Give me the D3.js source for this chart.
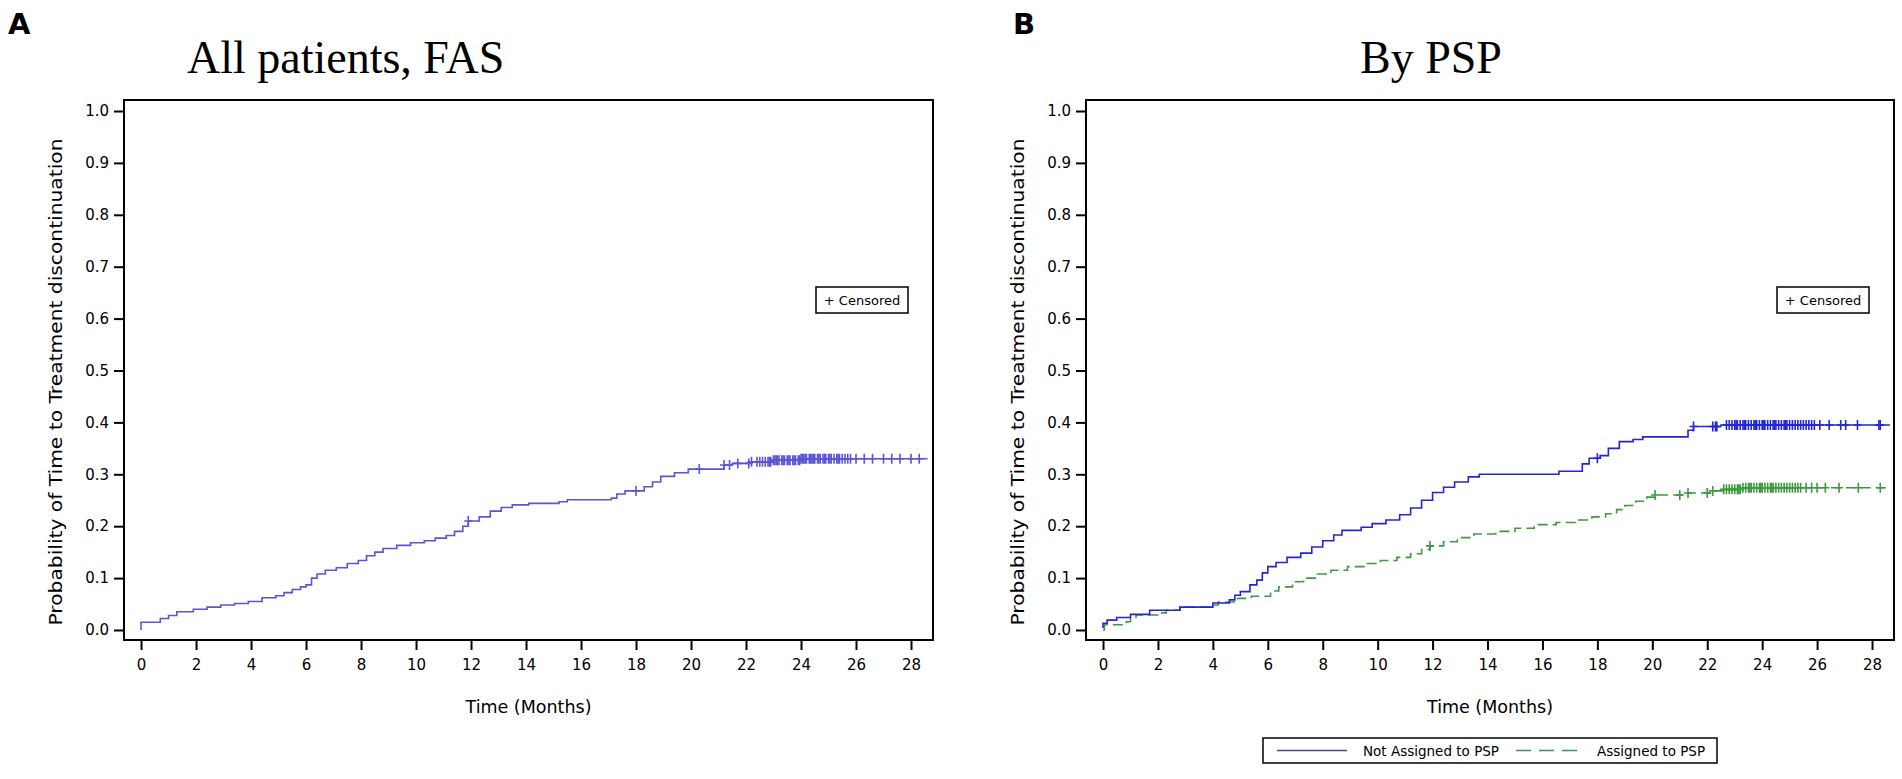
<!DOCTYPE html>
<html>
<head>
<meta charset="utf-8">
<script src="https://cdn.jsdelivr.net/npm/d3@7"></script>
<style>
  body { margin: 0; background: #fff; }
  svg text { font-family: "DejaVu Sans", Verdana, sans-serif; fill: #000; }
</style>
</head>
<body>
<svg id="chart" width="1902" height="779"></svg>
<script>
// Tick labels
const yTicks = [0, 0.1, 0.2, 0.3, 0.4, 0.5, 0.6, 0.7, 0.8, 0.9, 1.0];
const xTicks = [0, 2, 4, 6, 8, 10, 12, 14, 16, 18, 20, 22, 24, 26, 28];

// Panel A: all patients (step times, cumulative probability from that time on)
const timesAll = [0, 0, 0.7, 1.0, 1.3, 1.9, 2.4, 2.9, 3.4, 3.9, 4.4, 4.9, 5.2, 5.5, 5.8, 6.0, 6.2, 6.4, 6.7, 7.1, 7.5,
  7.9, 8.2, 8.5, 8.8, 9.3, 9.8, 10.3, 10.7, 11.1, 11.4, 11.7, 11.9, 12.3, 12.7, 13.1, 13.5, 14.1, 15.2, 15.5, 17.1,
  17.3, 17.6, 18.3, 18.6, 18.9, 19.4, 19.9, 21.2, 21.5, 22.2, 23.0, 24.0, 28.6];
const probAll = [0.0, 0.015, 0.022, 0.028, 0.035, 0.040, 0.044, 0.048, 0.051, 0.055, 0.062, 0.066, 0.072, 0.078, 0.083, 0.087, 0.100, 0.108, 0.115, 0.120, 0.128,
  0.134, 0.143, 0.150, 0.157, 0.163, 0.168, 0.172, 0.177, 0.182, 0.190, 0.200, 0.210, 0.218, 0.229, 0.236, 0.241, 0.244, 0.247, 0.251, 0.254,
  0.262, 0.268, 0.276, 0.285, 0.296, 0.303, 0.310, 0.318, 0.321, 0.324, 0.327, 0.330, 0.330];
const censorAll = [11.9, 18.0, 20.3, 21.2, 21.4, 21.7, 22.1, 22.2, 22.4, 22.5, 22.6, 22.7, 22.8, 22.85, 22.9, 23.0, 23.05, 23.1,
  23.15, 23.2, 23.3, 23.35, 23.4, 23.5, 23.55, 23.6, 23.7, 23.75, 23.8, 23.9, 23.95, 24.0, 24.05, 24.1, 24.15, 24.2,
  24.3, 24.35, 24.4, 24.45, 24.5, 24.6, 24.65, 24.7, 24.8, 24.85, 24.9, 25.0, 25.05, 25.1, 25.2, 25.3, 25.35, 25.4,
  25.5, 25.6, 25.7, 25.8, 26.0, 26.3, 26.6, 27.0, 27.3, 27.6, 28.0, 28.3];

// Panel B: not assigned to PSP
const timesNot = [0, 0, 0.15, 0.5, 1.0, 1.7, 2.8, 4.0, 4.6, 4.8, 5.0, 5.35, 5.6, 5.8, 6.0, 6.3, 6.7, 7.2, 7.6, 8.0, 8.4,
  8.7, 9.4, 9.8, 10.3, 10.8, 11.2, 11.6, 12.0, 12.4, 12.8, 13.3, 13.7, 16.6, 17.45, 17.7, 18.1, 18.4, 18.8, 19.3, 19.65,
  21.3, 21.5, 22.5, 28.65];
const probNot = [0.004, 0.013, 0.019, 0.024, 0.030, 0.038, 0.044, 0.052, 0.058, 0.067, 0.074, 0.087, 0.096, 0.110, 0.122, 0.130, 0.140, 0.148, 0.160, 0.172, 0.183,
  0.192, 0.198, 0.205, 0.212, 0.222, 0.235, 0.250, 0.265, 0.275, 0.285, 0.295, 0.300, 0.306, 0.320, 0.331, 0.336, 0.350, 0.363, 0.367, 0.372,
  0.385, 0.392, 0.395, 0.395];
const censorNot = [18.0, 21.5, 22.2, 22.3, 22.35, 22.7, 22.8, 22.9, 23.0, 23.05, 23.1, 23.2, 23.3, 23.35, 23.4, 23.5, 23.6,
  23.7, 23.75, 23.8, 23.9, 24.0, 24.05, 24.1, 24.2, 24.3, 24.4, 24.45, 24.5, 24.6, 24.7, 24.8, 24.85, 24.9, 25.0,
  25.1, 25.2, 25.3, 25.4, 25.5, 25.6, 25.7, 25.8, 25.9, 26.1, 26.44, 26.86, 27.04, 27.47, 28.25, 28.3];

// Panel B: assigned to PSP
const timesPSP = [0, 0.05, 0.85, 1.0, 1.2, 2.0, 2.3, 2.8, 3.9, 4.2, 4.9, 5.4, 6.1, 6.4, 6.9, 7.3, 7.8, 8.3, 8.9, 9.5,
  10.1, 10.7, 11.2, 11.6, 11.9, 12.4, 12.9, 13.5, 14.3, 15.0, 15.7, 16.5, 17.2, 17.8, 18.3, 18.7, 19.0, 19.4, 19.8, 20.1,
  21.3, 22.1, 22.6, 23.3, 28.65];
const probPSP = [0.000, 0.010, 0.016, 0.024, 0.029, 0.033, 0.038, 0.044, 0.048, 0.054, 0.061, 0.065, 0.075, 0.083, 0.093, 0.100, 0.108, 0.115, 0.122, 0.128,
  0.134, 0.140, 0.147, 0.155, 0.162, 0.170, 0.178, 0.185, 0.190, 0.196, 0.203, 0.207, 0.212, 0.218, 0.224, 0.232, 0.240, 0.248, 0.256, 0.260,
  0.264, 0.268, 0.271, 0.274, 0.274];
const censorPSP = [11.9, 20.1, 21.0, 21.3, 22.0, 22.2, 22.6, 22.7, 22.8, 22.9, 23.0, 23.1, 23.15, 23.2, 23.3, 23.4, 23.5,
  23.55, 23.6, 23.7, 23.8, 23.9, 23.95, 24.0, 24.1, 24.2, 24.3, 24.35, 24.4, 24.5, 24.6, 24.7, 24.8, 24.9, 25.0,
  25.1, 25.2, 25.3, 25.4, 25.6, 25.8, 26.0, 26.3, 26.8, 27.5, 28.3];

const legendLabels = ["Not Assigned to PSP", "Assigned to PSP"];

const svg = d3.select("#chart");

// value of a step curve at time t
function stepValue(times, probs, t) {
  const i = d3.bisectRight(times, t) - 1;
  return probs[Math.max(0, i)];
}

function drawPanel(opts) {
  const x = d3.scaleLinear().domain([-0.62, 28.8]).range([opts.left, opts.right]);
  const y = d3.scaleLinear().domain([-0.0193, 1.0212]).range([640, 100]);

  const g = svg.append("g");

  // panel letter + title
  svg.append("text")
    .attr("x", opts.letterX).attr("y", 34)
    .style("font-family", "'DejaVu Sans', sans-serif")
    .style("font-weight", "bold").style("font-size", "29px")
    .text(opts.letter);
  svg.append("text")
    .attr("x", opts.titleX).attr("y", 73)
    .style("font-family", "'Liberation Serif', 'Times New Roman', serif")
    .style("font-size", "46px")
    .text(opts.title);

  // frame
  g.append("rect")
    .attr("x", opts.left).attr("y", 100)
    .attr("width", opts.right - opts.left).attr("height", 540)
    .attr("fill", "none").attr("stroke", "#000").attr("stroke-width", 2);

  // y axis
  const yAxis = g.append("g")
    .attr("transform", `translate(${opts.left},0)`)
    .call(d3.axisLeft(y).tickValues(yTicks).tickFormat(d3.format(".1f")).tickSize(10).tickPadding(5));
  yAxis.select(".domain").remove();
  yAxis.selectAll("line").attr("stroke-width", 2);
  yAxis.selectAll("text").style("font-size", "15px").attr("font-family", null);

  // x axis
  const xAxis = g.append("g")
    .attr("transform", "translate(0,640)")
    .call(d3.axisBottom(x).tickValues(xTicks).tickFormat(d3.format("d")).tickSize(10).tickPadding(9));
  xAxis.select(".domain").remove();
  xAxis.selectAll("line").attr("stroke-width", 2);
  xAxis.selectAll("text").style("font-size", "15px").attr("font-family", null);

  // axis titles
  g.append("text")
    .attr("x", (opts.left + opts.right) / 2).attr("y", 713)
    .attr("text-anchor", "middle").style("font-size", "17.5px")
    .text("Time (Months)");
  g.append("text")
    .attr("transform", `translate(${opts.left - 62},382) rotate(-90)`)
    .attr("text-anchor", "middle").style("font-size", "17px")
    .attr("textLength", 487).attr("lengthAdjust", "spacingAndGlyphs")
    .text("Probability of Time to Treatment discontinuation");

  // censored legend box
  const bx = opts.right - 117;
  g.append("rect")
    .attr("x", bx).attr("y", 287).attr("width", 92).attr("height", 26)
    .attr("fill", "#fff").attr("stroke", "#000").attr("stroke-width", 1.5);
  g.append("text")
    .attr("x", bx + 46).attr("y", 305)
    .attr("text-anchor", "middle").style("font-size", "13px")
    .text("+ Censored");

  // curves
  const line = d3.line()
    .x(d => x(d[0])).y(d => y(d[1]))
    .curve(d3.curveStepAfter);

  opts.series.forEach(s => {
    const pts = s.times.map((t, i) => [t, s.probs[i]]);
    g.append("path")
      .datum(pts)
      .attr("d", line)
      .attr("fill", "none")
      .attr("stroke", s.color)
      .attr("stroke-width", 1.6)
      .attr("stroke-dasharray", s.dash || null);

    g.append("g").selectAll("path")
      .data(s.censor)
      .join("path")
      .attr("transform", t => `translate(${x(t)},${y(stepValue(s.times, s.probs, t))})`)
      .attr("d", "M-4,0H4M0,-5V5")
      .attr("stroke", s.color)
      .attr("stroke-width", 1.6)
      .attr("fill", "none");
  });
}

drawPanel({
  letter: "A", letterX: 8, title: "All patients, FAS", titleX: 187,
  left: 124, right: 933,
  series: [{ times: timesAll, probs: probAll, censor: censorAll, color: "#5a55d4" }]
});

drawPanel({
  letter: "B", letterX: 1013, title: "By PSP", titleX: 1360,
  left: 1086, right: 1894,
  series: [
    { times: timesPSP, probs: probPSP, censor: censorPSP, color: "#3f9a3f", dash: "10,5" },
    { times: timesNot, probs: probNot, censor: censorNot, color: "#2424d8" }
  ]
});

// bottom legend of panel B
const lg = svg.append("g");
lg.append("rect")
  .attr("x", 1263).attr("y", 738).attr("width", 454).attr("height", 25)
  .attr("fill", "#fff").attr("stroke", "#000").attr("stroke-width", 1.5);
const legendItems = [
  { label: legendLabels[0], color: "#3f4f86", dash: null, x0: 1277, x1: 1347, tx: 1363 },
  { label: legendLabels[1], color: "#3e8e66", dash: "15,8", x0: 1516, x1: 1583, tx: 1597 }
];
legendItems.forEach(d => {
  lg.append("line")
    .attr("x1", d.x0).attr("x2", d.x1).attr("y1", 750.5).attr("y2", 750.5)
    .attr("stroke", d.color).attr("stroke-width", 1.5)
    .attr("stroke-dasharray", d.dash);
  lg.append("text")
    .attr("x", d.tx).attr("y", 755.5)
    .style("font-size", "13.5px")
    .text(d.label);
});
</script>
</body>
</html>
